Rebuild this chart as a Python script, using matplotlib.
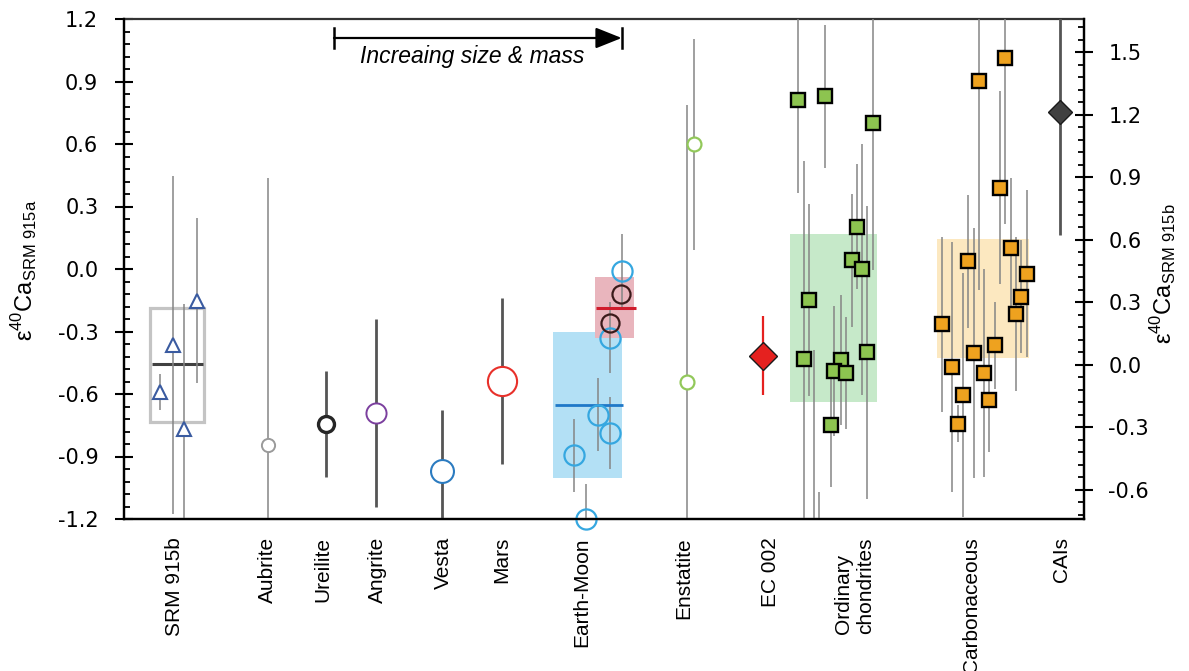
import numpy as np
import matplotlib.pyplot as plt
from matplotlib.patches import Rectangle
from matplotlib.ticker import FixedLocator, MultipleLocator

plt.rcParams['font.family'] = ['Liberation Sans', 'DejaVu Sans']
plt.rcParams['mathtext.fontset'] = 'custom'
plt.rcParams['mathtext.rm'] = 'Liberation Sans'
plt.rcParams['axes.unicode_minus'] = False

# --- categories (x position in plot units) ---
cat_names = ['SRM 915b', 'Aubrite', 'Ureilite', 'Angrite', 'Vesta', 'Mars', 'Earth-Moon',
             'Enstatite', 'EC 002', 'Ordinary\nchondrites', 'Carbonaceous', 'CAIs']
cat_x = [2.55, 7.15, 9.95, 12.65, 15.95, 18.9, 22.9, 28.0, 32.3, 36.55, 42.4, 46.9]

# SRM 915b measurements
srm_x = [1.815, 2.435, 3.0, 3.635]
srm_y = [-0.59, -0.365, -0.77, -0.152]
srm_err = [0.085, 0.81, 0.60, 0.395]
srm_mean = -0.456
srm_range = (-0.733, -0.187)

# single achondrite / planet groups
aub_x, aub_y, aub_err = 7.215, -0.843, 1.28
ure_x, ure_y, ure_err = 10.085, -0.744, 0.255
ang_x, ang_y, ang_err = 12.6, -0.69, 0.45
ves_x, ves_y, ves_err = 15.9, -0.968, 0.29
mar_x, mar_y, mar_err = 18.885, -0.538, 0.40

# Earth-Moon
em_x = [24.9, 24.3, 23.685, 24.3, 22.485, 23.075]
em_y = [-0.01, -0.33, -0.70, -0.789, -0.894, -1.201]
em_err = [0.18, 0.17, 0.175, 0.173, 0.175, 0.17]
moon_x = [24.835, 24.3]
moon_y = [-0.122, -0.26]
em_mean, em_range = -0.654, (-1.002, -0.304)
moon_mean, moon_range = -0.186, (-0.33, -0.04)

# Enstatite chondrites and EC 002
ens_x = [28.485, 28.165]
ens_y = [0.598, -0.543]
ens_err = [0.505, 1.33]
ec_x, ec_y, ec_err = 31.95, -0.416, 0.19

# Ordinary chondrites
oc_x = [33.7, 35.035, 37.45, 36.635, 36.385, 36.915, 34.25, 33.985, 37.165,
        35.835, 35.5, 36.1, 35.335, 34.5, 34.765]
oc_y = [0.81, 0.83, 0.70, 0.203, 0.041, -0.002, -0.15, -0.433, -0.40,
        -0.437, -0.49, -0.499, -0.749, -1.45, -1.50]
oc_err = [0.443, 0.343, 0.706, 0.30, 0.32, 0.602, 0.46, 0.952, 0.703,
          0.31, 0.313, 0.27, 0.295, 1.06, 0.43]
oc_range = (-0.639, 0.166)

# Carbonaceous chondrites
cc_x = [42.735, 44.065, 43.8, 44.35, 45.135, 44.835, 44.6, 40.885, 42.2,
        43.55, 42.5, 41.415, 43.0, 41.935, 43.265, 41.685]
cc_y = [0.902, 1.012, 0.39, 0.099, -0.022, -0.133, -0.214, -0.266, 0.037,
        -0.366, -0.402, -0.47, -0.499, -0.603, -0.63, -0.742]
cc_err = [1.005, 0.796, 0.463, 0.34, 0.40, 0.27, 0.37, 0.42, 0.32,
          0.21, 0.60, 0.60, 0.50, 0.585, 0.25, 0.09]
cc_range = (-0.428, 0.143)

# CAIs
cai_x, cai_y, cai_err = 46.815, 0.756, 0.595

fig = plt.figure(figsize=(11.89, 6.71), dpi=100)
ax = fig.add_axes([124 / 1189, 1 - 519 / 671, 960 / 1189, 500 / 671])
ax.set_xlim(0, 48)
ax.set_ylim(-1.2, 1.2)

thin = dict(ecolor='#858585', elinewidth=1.1, capsize=0, linestyle='none')
thick = dict(ecolor='#555555', elinewidth=2.0, capsize=0, linestyle='none')

# shaded ranges and means
ax.add_patch(Rectangle((1.3, srm_range[0]), 2.715, srm_range[1] - srm_range[0],
                       fill=False, edgecolor='#c4c4c4', lw=2.3, zorder=2))
ax.hlines(srm_mean, 1.385, 3.965, color='#404040', lw=2.2, zorder=3)
ax.add_patch(Rectangle((21.465, em_range[0]), 3.42, em_range[1] - em_range[0],
                       facecolor='#b3e0f5', edgecolor='none', zorder=1))
ax.add_patch(Rectangle((23.55, moon_range[0]), 1.95, moon_range[1] - moon_range[0],
                       facecolor='#e9b5bd', edgecolor='none', zorder=1))
ax.hlines(em_mean, 21.55, 24.95, color='#1f78c8', lw=2.0, zorder=4)
ax.hlines(moon_mean, 23.6, 25.6, color='#d01c2c', lw=2.2, zorder=4)
ax.add_patch(Rectangle((33.3, oc_range[0]), 4.365, oc_range[1] - oc_range[0],
                       facecolor='#c6e9c9', edgecolor='none', zorder=1))
ax.add_patch(Rectangle((40.635, cc_range[0]), 4.63, cc_range[1] - cc_range[0],
                       facecolor='#fce8c0', edgecolor='none', zorder=1))

# SRM 915b
ax.errorbar(srm_x, srm_y, yerr=srm_err, fmt='^', ms=10, mfc='white', mec='#3a5ba0',
            mew=1.5, zorder=5, **thin)

# achondrites, Vesta and Mars
ax.errorbar(aub_x, aub_y, yerr=aub_err, fmt='o', ms=9.5, mfc='white', mec='#9a9a9a',
            mew=1.4, zorder=5, **thin)
ax.errorbar(ure_x, ure_y, yerr=ure_err, fmt='o', ms=11.5, mfc='white', mec='#262626',
            mew=2.4, zorder=5, **thick)
ax.errorbar(ang_x, ang_y, yerr=ang_err, fmt='o', ms=14.5, mfc='white', mec='#7b3f9e',
            mew=1.4, zorder=5, **thick)
ax.errorbar(ves_x, ves_y, yerr=ves_err, fmt='o', ms=16.5, mfc='white', mec='#2b7bc0',
            mew=1.5, zorder=5, **thick)
ax.errorbar(mar_x, mar_y, yerr=mar_err, fmt='o', ms=21, mfc='white', mec='#e8302a',
            mew=1.5, zorder=5, **thick)

# Earth-Moon
ax.errorbar(em_x, em_y, yerr=em_err, fmt='none', zorder=3, **thin)
ax.plot(em_x, em_y, 'o', ms=14.5, mfc='none', mec='#35a7e0', mew=1.6, zorder=5,
        clip_on=False)
ax.plot(moon_x, moon_y, 'o', ms=13, mfc='none', mec='#3b1a1a', mew=1.6, zorder=5)

# Enstatite and EC 002
ax.errorbar(ens_x, ens_y, yerr=ens_err, fmt='o', ms=10, mfc='white', mec='#92c85a',
            mew=1.6, zorder=5, **thin)
ax.errorbar(ec_x, ec_y, yerr=ec_err, fmt='D', ms=14.3, mfc='#e5211f', mec='#1a1a1a',
            mew=1.0, ecolor='#e5211f', elinewidth=1.6, capsize=0, zorder=5)

# chondrites
ax.errorbar(oc_x, oc_y, yerr=oc_err, fmt='none', zorder=3, **thin)
ax.plot(oc_x, oc_y, 's', ms=9.7, mfc='#8dc450', mec='black', mew=1.7, zorder=5)
ax.errorbar(cc_x, cc_y, yerr=cc_err, fmt='none', zorder=3, **thin)
ax.plot(cc_x, cc_y, 's', ms=9.7, mfc='#eea21f', mec='black', mew=1.7, zorder=5)

# CAIs
ax.errorbar(cai_x, cai_y, yerr=cai_err, fmt='D', ms=11.8, mfc='#404040', mec='#1a1a1a',
            mew=1.0, zorder=5, **thick)

# size / mass arrow
trans = ax.get_xaxis_transform()
ax.annotate('', xy=(24.885, 0.962), xytext=(10.5, 0.962), xycoords=trans,
            arrowprops=dict(arrowstyle='-|>,head_length=0.8,head_width=0.32',
                            color='black', lw=1.6, shrinkA=0, shrinkB=0,
                            mutation_scale=20))
for xe in (10.5, 24.885):
    ax.plot([xe, xe], [0.942, 0.982], color='black', lw=1.8, transform=trans,
            clip_on=False)
ax.text(17.385, 0.925, 'Increaing size & mass', transform=trans, ha='center',
        va='center', fontsize=16.5, style='italic')

# axes styling
for side in ['left', 'right', 'bottom']:
    ax.spines[side].set_linewidth(1.6)
ax.spines['top'].set_linewidth(1.6)
ax.spines['top'].set_color('#333333')

left_ticks = np.round(np.arange(-1.2, 1.21, 0.3), 2)
ax.yaxis.set_major_locator(FixedLocator(left_ticks))
ax.yaxis.set_minor_locator(MultipleLocator(0.06))
ax.set_yticklabels([f'{v:.1f}' for v in left_ticks], family='DejaVu Sans', fontsize=15)
ax.tick_params(axis='y', which='major', direction='inout', length=13, width=1.5, pad=12)
ax.tick_params(axis='y', which='minor', direction='in', length=4.5, width=1.3)

ax.set_xticks(cat_x)
ax.set_xticklabels(cat_names, rotation=90, fontsize=15, ha='center', va='top',
                   multialignment='left')
ax.tick_params(axis='x', length=0, pad=13)

ax2 = ax.twinx()
ax2.set_ylim(-0.74, 1.66)
right_ticks = np.round(np.arange(-0.6, 1.51, 0.3), 2)
ax2.yaxis.set_major_locator(FixedLocator(right_ticks))
ax2.yaxis.set_minor_locator(MultipleLocator(0.06))
ax2.set_yticklabels([f'{v:.1f}' for v in right_ticks], family='DejaVu Sans', fontsize=15)
ax2.tick_params(axis='y', which='major', direction='inout', length=13, width=1.5, pad=11)
ax2.tick_params(axis='y', which='minor', direction='in', length=4.5, width=1.3)
for side in ['left', 'right', 'bottom']:
    ax2.spines[side].set_linewidth(1.6)
ax2.spines['top'].set_visible(False)

fig.text(24.5 / 1189, 1 - 270 / 671, 'ε$^{40}$Ca$_{\\mathrm{SRM\\ 915a}}$', rotation=90,
         ha='center', va='center', fontsize=17)
fig.text(1164 / 1189, 1 - 274 / 671, 'ε$^{40}$Ca$_{\\mathrm{SRM\\ 915b}}$', rotation=90,
         ha='center', va='center', fontsize=17)

fig.savefig('out.png', dpi=100)
